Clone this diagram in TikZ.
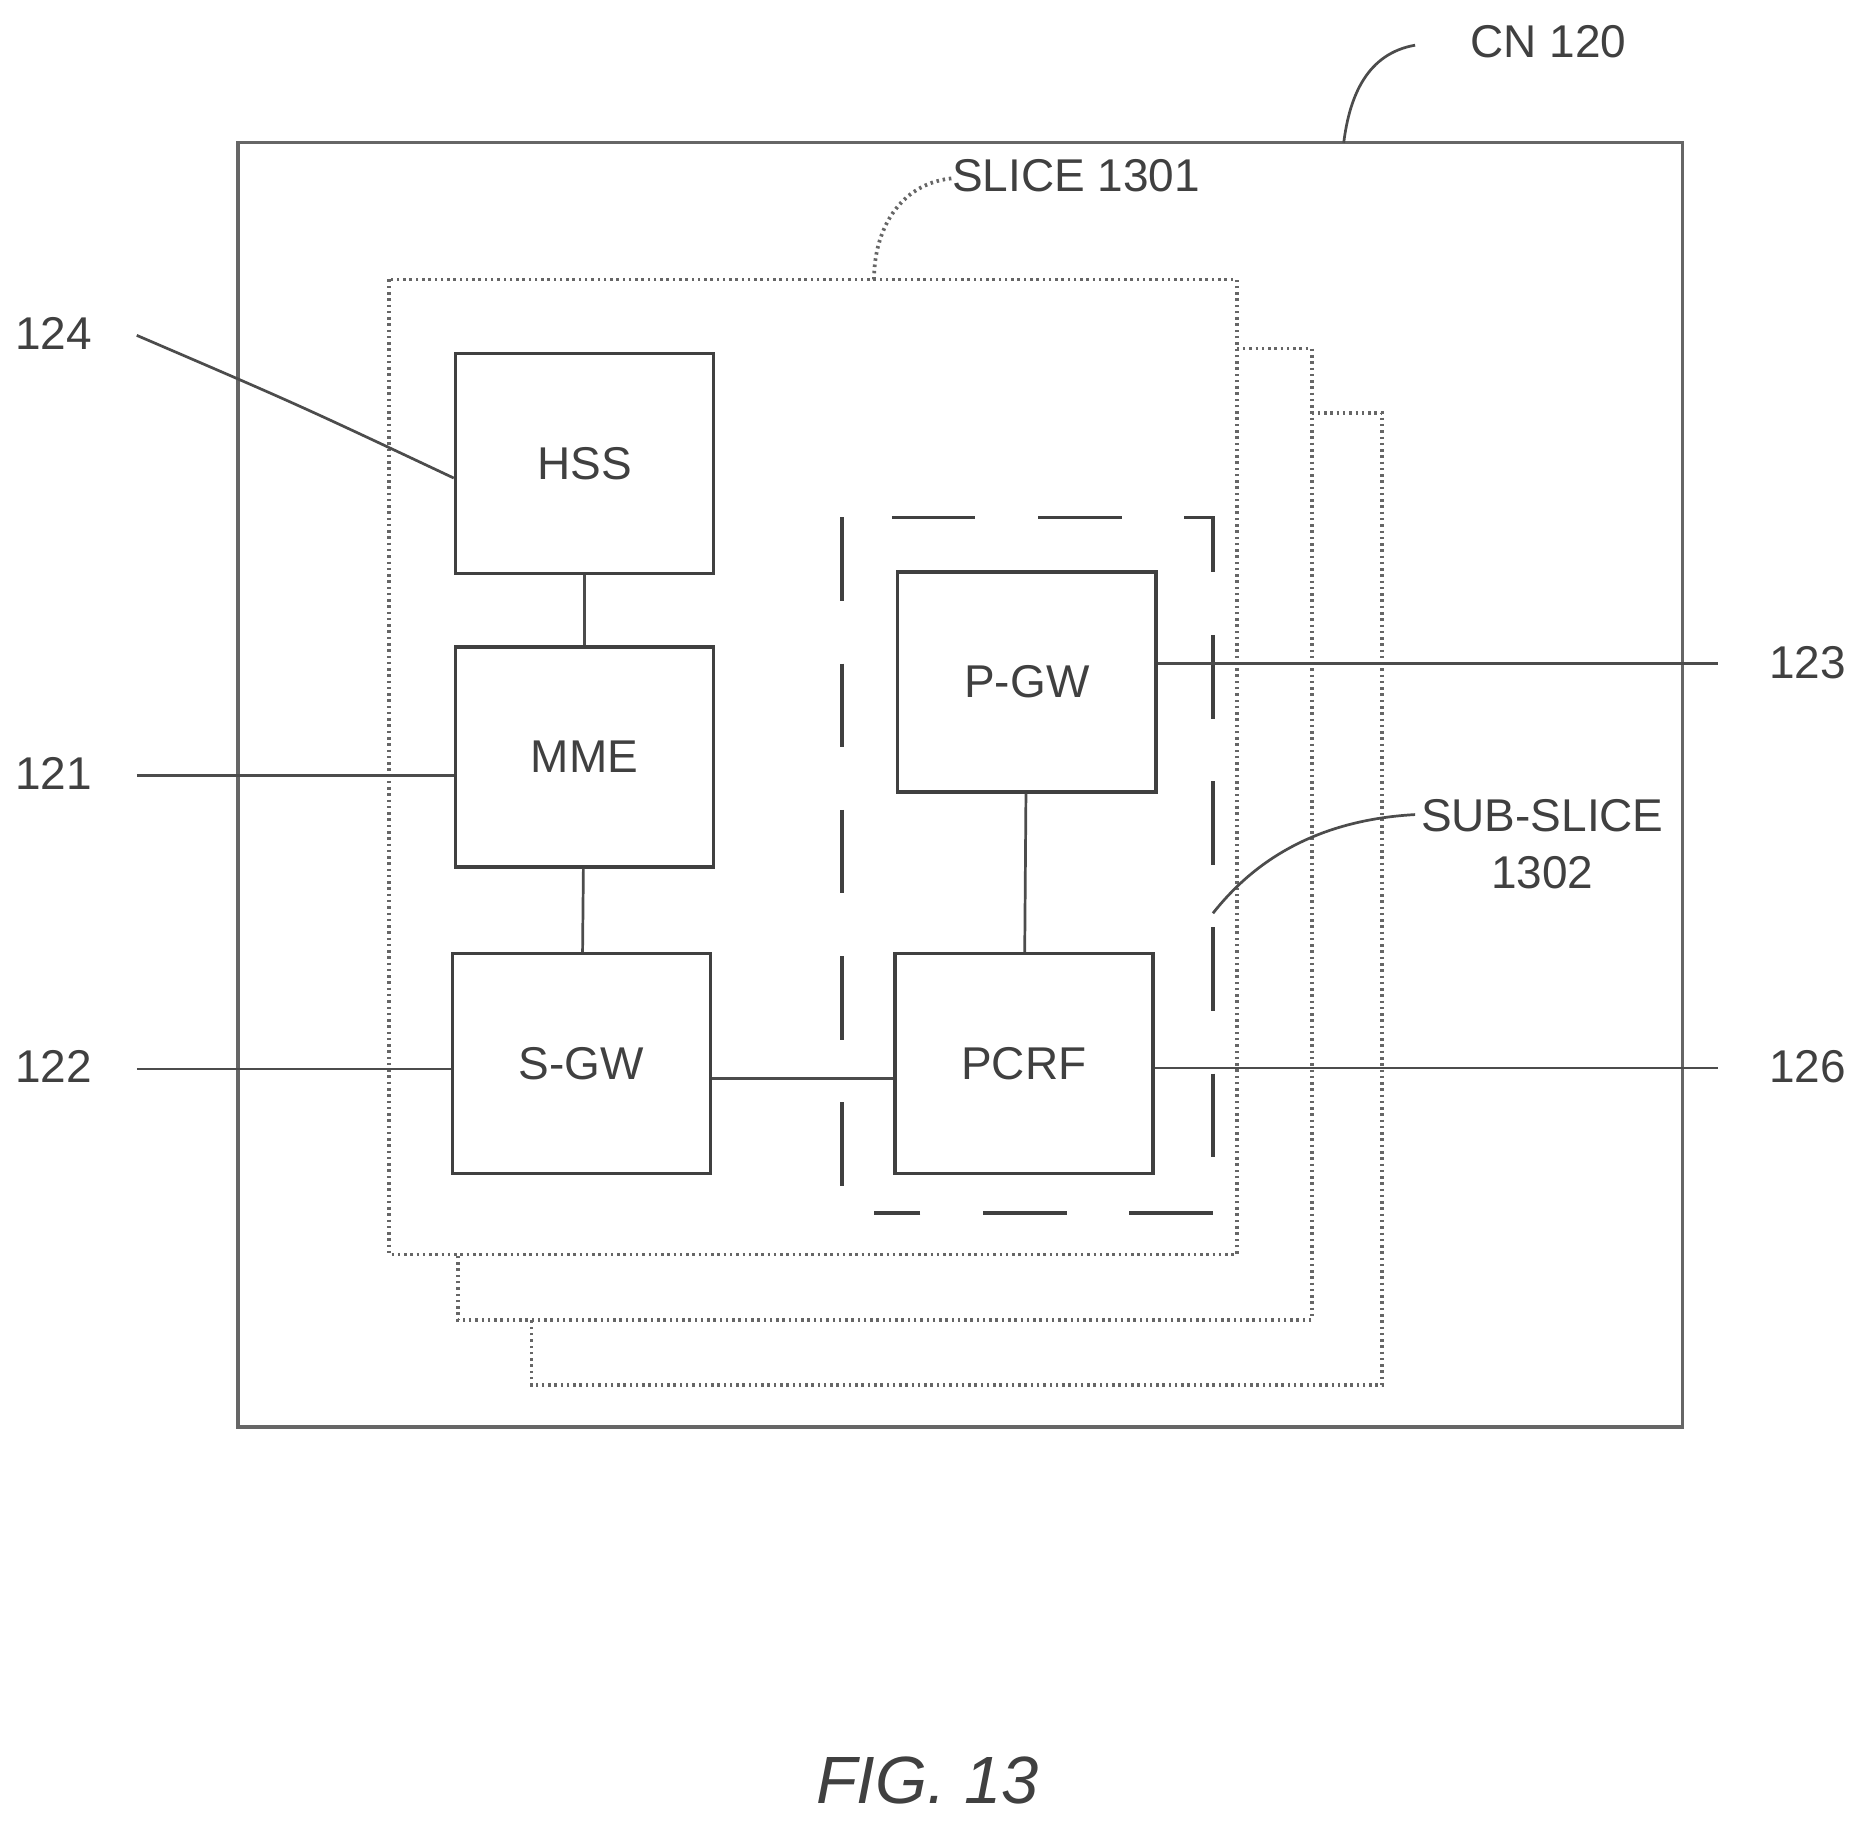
\documentclass[tikz,border=0pt]{standalone}
\usepackage{fontspec}
\setmainfont{Liberation Sans}
\begin{document}
\begin{tikzpicture}[x=0.02cm,y=-0.02cm,
 box/.style={draw=black!75,line width=1.6pt},
 dot/.style={draw=black!60,line width=1.8pt,dash pattern=on 1.2pt off 1.8pt},
 dsh/.style={draw=black!75,line width=1.6pt,dash pattern=on 40pt off 30pt},
 ln/.style={draw=black!70,line width=1.3pt},
 lbl/.style={font=\fontsize{22}{27}\selectfont,text=black!75},
 blk/.style={box,minimum width=217*0.02cm,minimum height=185*0.02cm,inner sep=0pt,font=\fontsize{22}{27}\selectfont,text=black!75}]
\useasboundingbox (0,0) rectangle (1565,1536);
\draw[box,draw=black!60] (200,120) rectangle (1415,1200);
\node[lbl] (cn) at (1302,35) {CN 120};
\coordinate (cna) at (1190,38);\coordinate (cnb) at (1130,120);
\draw[ln] (cna) .. controls (1150,45) and (1135,80) .. (cnb);
\draw[dot] (327,235) rectangle (1040,1055);
\draw[dot] (1040,293) -- (1103,293) -- (1103,1110) -- (385,1110) -- (385,1055);
\draw[dot] (1103,347) -- (1162,347) -- (1162,1165) -- (447,1165) -- (447,1110);
\node[lbl] (sl) at (905,148) {SLICE 1301};
\coordinate (sla) at (800,150);\coordinate (slb) at (735,235);
\draw[dot] (sla) .. controls (755,155) and (735,195) .. (slb);
\node[blk] (hss) at (491.5,390) {HSS};
\node[blk] (mme) at (491.5,636.5) {MME};
\node[blk] (sgw) at (489,894.5) {S-GW};
\node[blk] (pgw) at (863.5,573.5) {P-GW};
\node[blk] (pcrf) at (861,894.5) {PCRF};
\draw[dsh] (708,435) -- (708,1010);
\draw[dsh] (750,435) -- (1020,435) -- (1020,1020);
\draw[dsh] (1020,1020) -- (735,1020);
\draw[ln] (hss) -- (mme);
\draw[ln] (mme) -- (sgw);
\draw[ln] (pgw) -- (pcrf);
\draw[ln] (sgw.east |- 0,907) -- (pcrf.west |- 0,907);
\node[lbl] (l124) at (45,280) {124};
\node[lbl] (l121) at (45,650) {121};
\node[lbl] (l122) at (45,897) {122};
\node[lbl] (l123) at (1520,557) {123};
\node[lbl] (l126) at (1520,897) {126};
\coordinate (a124) at (115,282);
\coordinate (a121) at (115,652);
\coordinate (a122) at (115,899);
\coordinate (a123) at (1445,558);
\coordinate (a126) at (1445,898);
\draw[ln] (a124) .. controls (250,340) .. (hss.west |- 0,402);
\draw[ln] (a121) -- (mme.west |- a121);
\draw[ln] (a122) -- (sgw.west |- a122);
\draw[ln] (pgw.east |- a123) -- (a123);
\draw[ln] (pcrf.east |- a126) -- (a126);
\node[lbl,align=center] (ss) at (1297,710) {SUB-SLICE\\1302};
\coordinate (ssa) at (1190,685);\coordinate (ssb) at (1020,768);
\draw[ln] (ssa) .. controls (1100,690) and (1050,730) .. (ssb);
\node[font=\itshape\fontsize{32}{38}\selectfont,text=black!75] (fig) at (780,1497) {FIG. 13};
\end{tikzpicture}
\end{document}
